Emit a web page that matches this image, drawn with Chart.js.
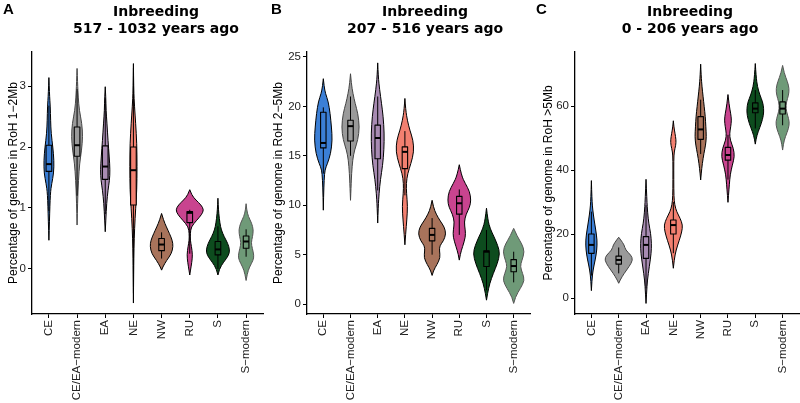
<!DOCTYPE html>
<html><head><meta charset="utf-8">
<script src="https://cdn.jsdelivr.net/npm/chart.js@4.4.0/dist/chart.umd.min.js"></script>
<style>
body{margin:0;background:#fff;width:800px;height:403px;overflow:hidden;position:relative;font-family:"Liberation Sans",Arial,sans-serif}
canvas{position:absolute;top:0}
.ttl{position:absolute;top:3px;width:240px;text-align:center;font:bold 14px/17px "DejaVu Sans",sans-serif;color:#000;white-space:nowrap}
.lbl{position:absolute;top:0;font:bold 15px "Liberation Sans",Arial,sans-serif;color:#000}
</style></head><body>
<canvas id="cA" width="265" height="403" style="left:0"></canvas>
<canvas id="cB" width="267" height="403" style="left:265px"></canvas>
<canvas id="cC" width="268" height="403" style="left:532px"></canvas>
<div class="lbl" style="left:3px">A</div>
<div class="lbl" style="left:271px">B</div>
<div class="lbl" style="left:536px">C</div>
<div class="ttl" style="left:36px">Inbreeding<br>517 - 1032 years ago</div>
<div class="ttl" style="left:305px">Inbreeding<br>207 - 516 years ago</div>
<div class="ttl" style="left:570px">Inbreeding<br>0 - 206 years ago</div>
<script>
const categories = ['CE','CE/EA\u2212modern','EA','NE','NW','RU','S','S\u2212modern'];
const fillColors = ['#3b7fd6','#9a9a9a','#a88bb2','#f28070','#a8735b','#c9448f','#0d4c1e','#6f9a78'];
const edgeColors = ['#000','#444','#000','#000','#000','#000','#000','#555'];

// violin outlines: [value, half-width in category units]
const shapeA = [
 [[0.47,0],[0.8,0.02],[1.24,0.05],[1.4,0.1],[1.57,0.17],[1.78,0.18],[2.0,0.14],[2.22,0.08],[2.44,0.06],[2.66,0.05],[2.87,0.02],[3.14,0]],
 [[0.72,0],[1.13,0.02],[1.46,0.05],[1.73,0.09],[1.95,0.16],[2.17,0.2],[2.39,0.17],[2.6,0.08],[2.82,0.04],[3.04,0.02],[3.29,0]],
 [[0.61,0],[0.8,0.02],[1.08,0.05],[1.3,0.1],[1.45,0.15],[1.62,0.17],[1.85,0.14],[2.1,0.1],[2.39,0.06],[2.6,0.03],[2.82,0.02],[2.99,0]],
 [[-0.56,0],[0.0,0.01],[0.33,0.02],[0.66,0.04],[0.99,0.08],[1.29,0.12],[1.68,0.13],[2.06,0.12],[2.39,0.08],[2.66,0.04],[2.93,0.01],[3.37,0]],
 [[-0.02,0],[0.03,0.04],[0.14,0.18],[0.25,0.35],[0.37,0.41],[0.47,0.38],[0.58,0.28],[0.69,0.17],[0.8,0.07],[0.91,0]],
 [[-0.1,0],[-0.01,0.03],[0.1,0.07],[0.23,0.1],[0.37,0.06],[0.47,0.02],[0.58,0.02],[0.69,0.05],[0.8,0.25],[0.89,0.42],[0.97,0.5],[1.05,0.4],[1.13,0.22],[1.21,0.07],[1.3,0]],
 [[-0.1,0],[0.0,0.05],[0.11,0.2],[0.22,0.38],[0.31,0.42],[0.42,0.35],[0.53,0.22],[0.64,0.12],[0.75,0.07],[0.91,0.03],[1.05,0.01],[1.16,0]],
 [[-0.19,0],[-0.08,0.04],[0.03,0.12],[0.14,0.25],[0.22,0.28],[0.34,0.22],[0.43,0.18],[0.53,0.23],[0.64,0.26],[0.75,0.2],[0.86,0.08],[0.97,0.02],[1.07,0]]
];
// boxes: [whisker low, q1, median, q3, whisker high]
const boxA = [[0.95,1.6,1.72,2.03,2.68],[1.2,1.85,2.03,2.33,2.95],[0.9,1.47,1.68,2.02,2.8],[-0.4,1.05,1.62,2.0,3.3],[0.17,0.3,0.4,0.5,0.6],[0.25,0.76,0.92,0.94,0.97],[0.0,0.23,0.32,0.45,0.7],[0.2,0.34,0.45,0.54,0.65]];

const shapeB = [
 [[9.5,0],[10.9,0.01],[12.6,0.03],[13.6,0.06],[14.2,0.15],[15.2,0.27],[16.6,0.33],[17.9,0.3],[19.3,0.25],[20.5,0.18],[21.3,0.08],[22.0,0.03],[22.8,0]],
 [[10.5,0],[11.9,0.02],[13.2,0.04],[14.6,0.08],[15.6,0.15],[16.6,0.27],[17.9,0.33],[19.3,0.27],[20.3,0.17],[21.3,0.09],[22.3,0.03],[23.3,0]],
 [[8.2,0],[9.9,0.02],[11.2,0.05],[12.6,0.1],[14.0,0.18],[15.6,0.23],[17.3,0.24],[19.0,0.2],[20.3,0.14],[21.7,0.07],[23.0,0.02],[24.4,0]],
 [[6.0,0],[7.2,0.03],[8.5,0.07],[9.9,0.1],[11.2,0.06],[12.2,0.05],[13.2,0.1],[14.2,0.22],[15.4,0.33],[16.6,0.3],[17.6,0.18],[18.6,0.09],[19.6,0.03],[20.8,0]],
 [[2.9,0],[3.4,0.05],[4.0,0.18],[4.7,0.3],[5.4,0.27],[5.9,0.28],[6.4,0.42],[7.1,0.51],[7.8,0.45],[8.4,0.3],[9.1,0.15],[9.8,0.05],[10.5,0]],
 [[4.45,0],[5.1,0.04],[5.8,0.12],[6.8,0.23],[7.5,0.22],[8.3,0.18],[9.1,0.25],[9.8,0.38],[10.5,0.43],[11.4,0.38],[12.2,0.22],[13.0,0.08],[14.1,0]],
 [[0.4,0],[1.1,0.04],[2.1,0.12],[3.1,0.25],[4.1,0.4],[5.1,0.49],[5.9,0.42],[6.8,0.28],[7.6,0.14],[8.5,0.05],[9.7,0]],
 [[0.07,0],[0.73,0.06],[1.6,0.25],[2.4,0.4],[3.1,0.33],[3.8,0.24],[4.4,0.3],[5.3,0.4],[6.1,0.3],[6.8,0.14],[7.66,0]]
];
const boxB = [[13.2,15.8,16.3,19.4,19.9],[15.0,16.5,18.0,18.6,21.0],[11.5,14.7,16.8,18.1,21.0],[11.0,13.7,15.4,15.9,17.5],[5.0,6.4,7.0,7.66,8.7],[7.0,9.1,10.2,10.9,11.6],[1.4,3.8,5.3,5.4,7.5],[2.2,3.27,3.85,4.5,5.3]];

const shapeC = [
 [[2.3,0],[5.6,0.02],[8.75,0.06],[11.9,0.14],[15.0,0.2],[18.1,0.21],[21.25,0.16],[24.4,0.1],[27.5,0.05],[30.6,0.02],[36.7,0]],
 [[4.6,0],[5.6,0.05],[7.7,0.2],[9.8,0.38],[11.9,0.52],[13.4,0.45],[15.0,0.25],[16.6,0.2],[18.1,0.08],[19.0,0]],
 [[-1.7,0],[1.5,0.02],[5.6,0.05],[9.8,0.12],[14.0,0.19],[17.1,0.2],[20.2,0.17],[23.4,0.1],[26.5,0.06],[30.6,0.03],[37.1,0]],
 [[9.3,0],[11.9,0.03],[15.0,0.1],[18.1,0.22],[20.7,0.31],[22.8,0.34],[24.9,0.25],[27.0,0.12],[29.1,0.05],[31.7,0.02],[36.9,0.015],[43.1,0.015],[45.7,0.03],[47.8,0.09],[49.4,0.1],[51.5,0.06],[53.5,0.02],[55.4,0]],
 [[36.9,0],[38.9,0.02],[42.0,0.06],[45.2,0.12],[47.8,0.18],[50.4,0.21],[53.5,0.19],[56.7,0.17],[59.8,0.13],[62.9,0.09],[66.0,0.05],[69.2,0.02],[73.1,0]],
 [[29.9,0],[32.2,0.02],[35.4,0.05],[38.5,0.08],[41.6,0.16],[44.2,0.24],[46.8,0.2],[49.4,0.08],[51.5,0.06],[53.5,0.1],[55.6,0.13],[57.7,0.1],[60.4,0.04],[63.6,0]],
 [[48.1,0],[49.8,0.03],[51.9,0.1],[54.5,0.22],[57.1,0.3],[59.2,0.31],[61.3,0.27],[63.4,0.17],[66.0,0.08],[69.2,0.03],[73.3,0]],
 [[46.25,0],[48.3,0.03],[50.4,0.1],[53.0,0.22],[55.1,0.25],[57.2,0.18],[59.2,0.12],[61.3,0.14],[63.4,0.22],[65.5,0.24],[67.6,0.18],[70.2,0.06],[72.7,0]]
];
const boxC = [[7,13.96,16.6,20,27],[7.7,10.6,11.9,13.1,15.8],[3,12.4,16.6,19.2,29],[14,20,22.8,24.4,30],[45,49.6,52.7,56.7,62],[37,43.1,44.7,47.1,51],[53,57.9,59.2,61.0,65],[54,57.5,59.2,61.3,65]];

const yTicksA = [0,1,2,3];
const yTicksB = [0,5,10,15,20,25];
const yTicksC = [0,20,40,60];

function sidePath(ctx, pts, first){
  if (first) ctx.moveTo(pts[0][0], pts[0][1]); else ctx.lineTo(pts[0][0], pts[0][1]);
  const n = pts.length - 1;
  for (let k = 1; k < n; k++) {
    const nx = k === n - 1 ? pts[n][0] : (pts[k][0] + pts[k+1][0]) / 2;
    const ny = k === n - 1 ? pts[n][1] : (pts[k][1] + pts[k+1][1]) / 2;
    ctx.quadraticCurveTo(pts[k][0], pts[k][1], nx, ny);
  }
  if (n === 1) ctx.lineTo(pts[1][0], pts[1][1]);
}

const violinPlugin = {
  id: 'violins',
  afterDatasetsDraw(chart) {
    const o = chart.options.plugins.violins;
    const {ctx} = chart, xs = chart.scales.x, ys = chart.scales.y;
    ctx.save();
    o.shapes.forEach((shape, i) => {
      const right = shape.map(p => [xs.getPixelForValue(i + p[1]), ys.getPixelForValue(p[0])]);
      const left = shape.slice().reverse().map(p => [xs.getPixelForValue(i - p[1]), ys.getPixelForValue(p[0])]);
      ctx.beginPath();
      sidePath(ctx, right, true);
      sidePath(ctx, left, false);
      ctx.closePath();
      ctx.fillStyle = fillColors[i];
      ctx.fill();
      ctx.lineWidth = 1;
      ctx.strokeStyle = edgeColors[i];
      ctx.lineJoin = 'round';
      ctx.stroke();
      const b = o.boxes[i];
      const xc = xs.getPixelForValue(i);
      const x0 = xs.getPixelForValue(i - 0.1), x1 = xs.getPixelForValue(i + 0.1);
      ctx.strokeStyle = '#000';
      ctx.lineWidth = 1;
      ctx.beginPath();
      ctx.moveTo(xc, ys.getPixelForValue(b[0]));
      ctx.lineTo(xc, ys.getPixelForValue(b[4]));
      ctx.stroke();
      const yq1 = ys.getPixelForValue(b[1]), yq3 = ys.getPixelForValue(b[3]);
      ctx.fillStyle = fillColors[i];
      ctx.fillRect(x0, yq3, x1 - x0, yq1 - yq3);
      ctx.lineWidth = 1.1;
      ctx.strokeRect(x0, yq3, x1 - x0, yq1 - yq3);
      const ym = ys.getPixelForValue(b[2]);
      ctx.lineWidth = 2;
      ctx.beginPath();
      ctx.moveTo(x0, ym); ctx.lineTo(x1, ym);
      ctx.stroke();
    });
    ctx.restore();
  }
};

function makeChart(id, shapes, boxes, yMin, yMax, yTicks, yTitle, titlePad, yWidth, padRight) {
  new Chart(document.getElementById(id), {
    type: 'scatter',
    data: {datasets: [{data: boxes.map((b, i) => ({x: i, y: b[2]})), pointRadius: 0, showLine: false}]},
    options: {
      responsive: false, animation: false, events: [],
      layout: {padding: {top: 52, right: padRight, bottom: 0, left: 0}},
      plugins: {legend: {display: false}, tooltip: {enabled: false}, violins: {shapes, boxes}},
      scales: {
        x: {
          type: 'linear', min: -0.6, max: 7.6,
          afterBuildTicks: s => { s.ticks = categories.map((c, i) => ({value: i})); },
          afterFit: s => { s.height = 89; },
          ticks: {callback: (v, idx) => categories[idx], autoSkip: false, minRotation: 90, maxRotation: 90,
                  font: {size: 11.5, family: 'Liberation Sans'}, color: '#222', padding: 2},
          grid: {display: true, drawOnChartArea: false, drawTicks: true, tickLength: 4, color: '#000', lineWidth: 1},
          border: {display: true, color: '#000', width: 1.3}
        },
        y: {
          type: 'linear', min: yMin, max: yMax,
          afterBuildTicks: s => { s.ticks = yTicks.map(v => ({value: v})); },
          afterFit: s => { s.width = yWidth; },
          ticks: {font: {size: 11.5, family: 'Liberation Sans'}, color: '#222', padding: 2},
          grid: {display: true, drawOnChartArea: false, drawTicks: true, tickLength: 4, color: '#000', lineWidth: 1},
          border: {display: true, color: '#000', width: 1.3},
          title: {display: true, text: yTitle, font: {size: 12, family: 'Liberation Sans'}, color: '#000', padding: {top: titlePad, bottom: 0}}
        }
      }
    },
    plugins: [violinPlugin]
  });
}

makeChart('cA', shapeA, boxA, -0.74, 3.56, yTicksA, 'Percentage of genome in RoH 1\u22122Mb', 6, 32, 2);
makeChart('cB', shapeB, boxB, -1.0, 25.5, yTicksB, 'Percentage of genome in RoH 2\u22125Mb', 6, 42, 2);
makeChart('cC', shapeC, boxC, -5, 76.9, yTicksC, 'Percentage of genome in RoH >5Mb', 9, 43, 1);
</script>
</body></html>
